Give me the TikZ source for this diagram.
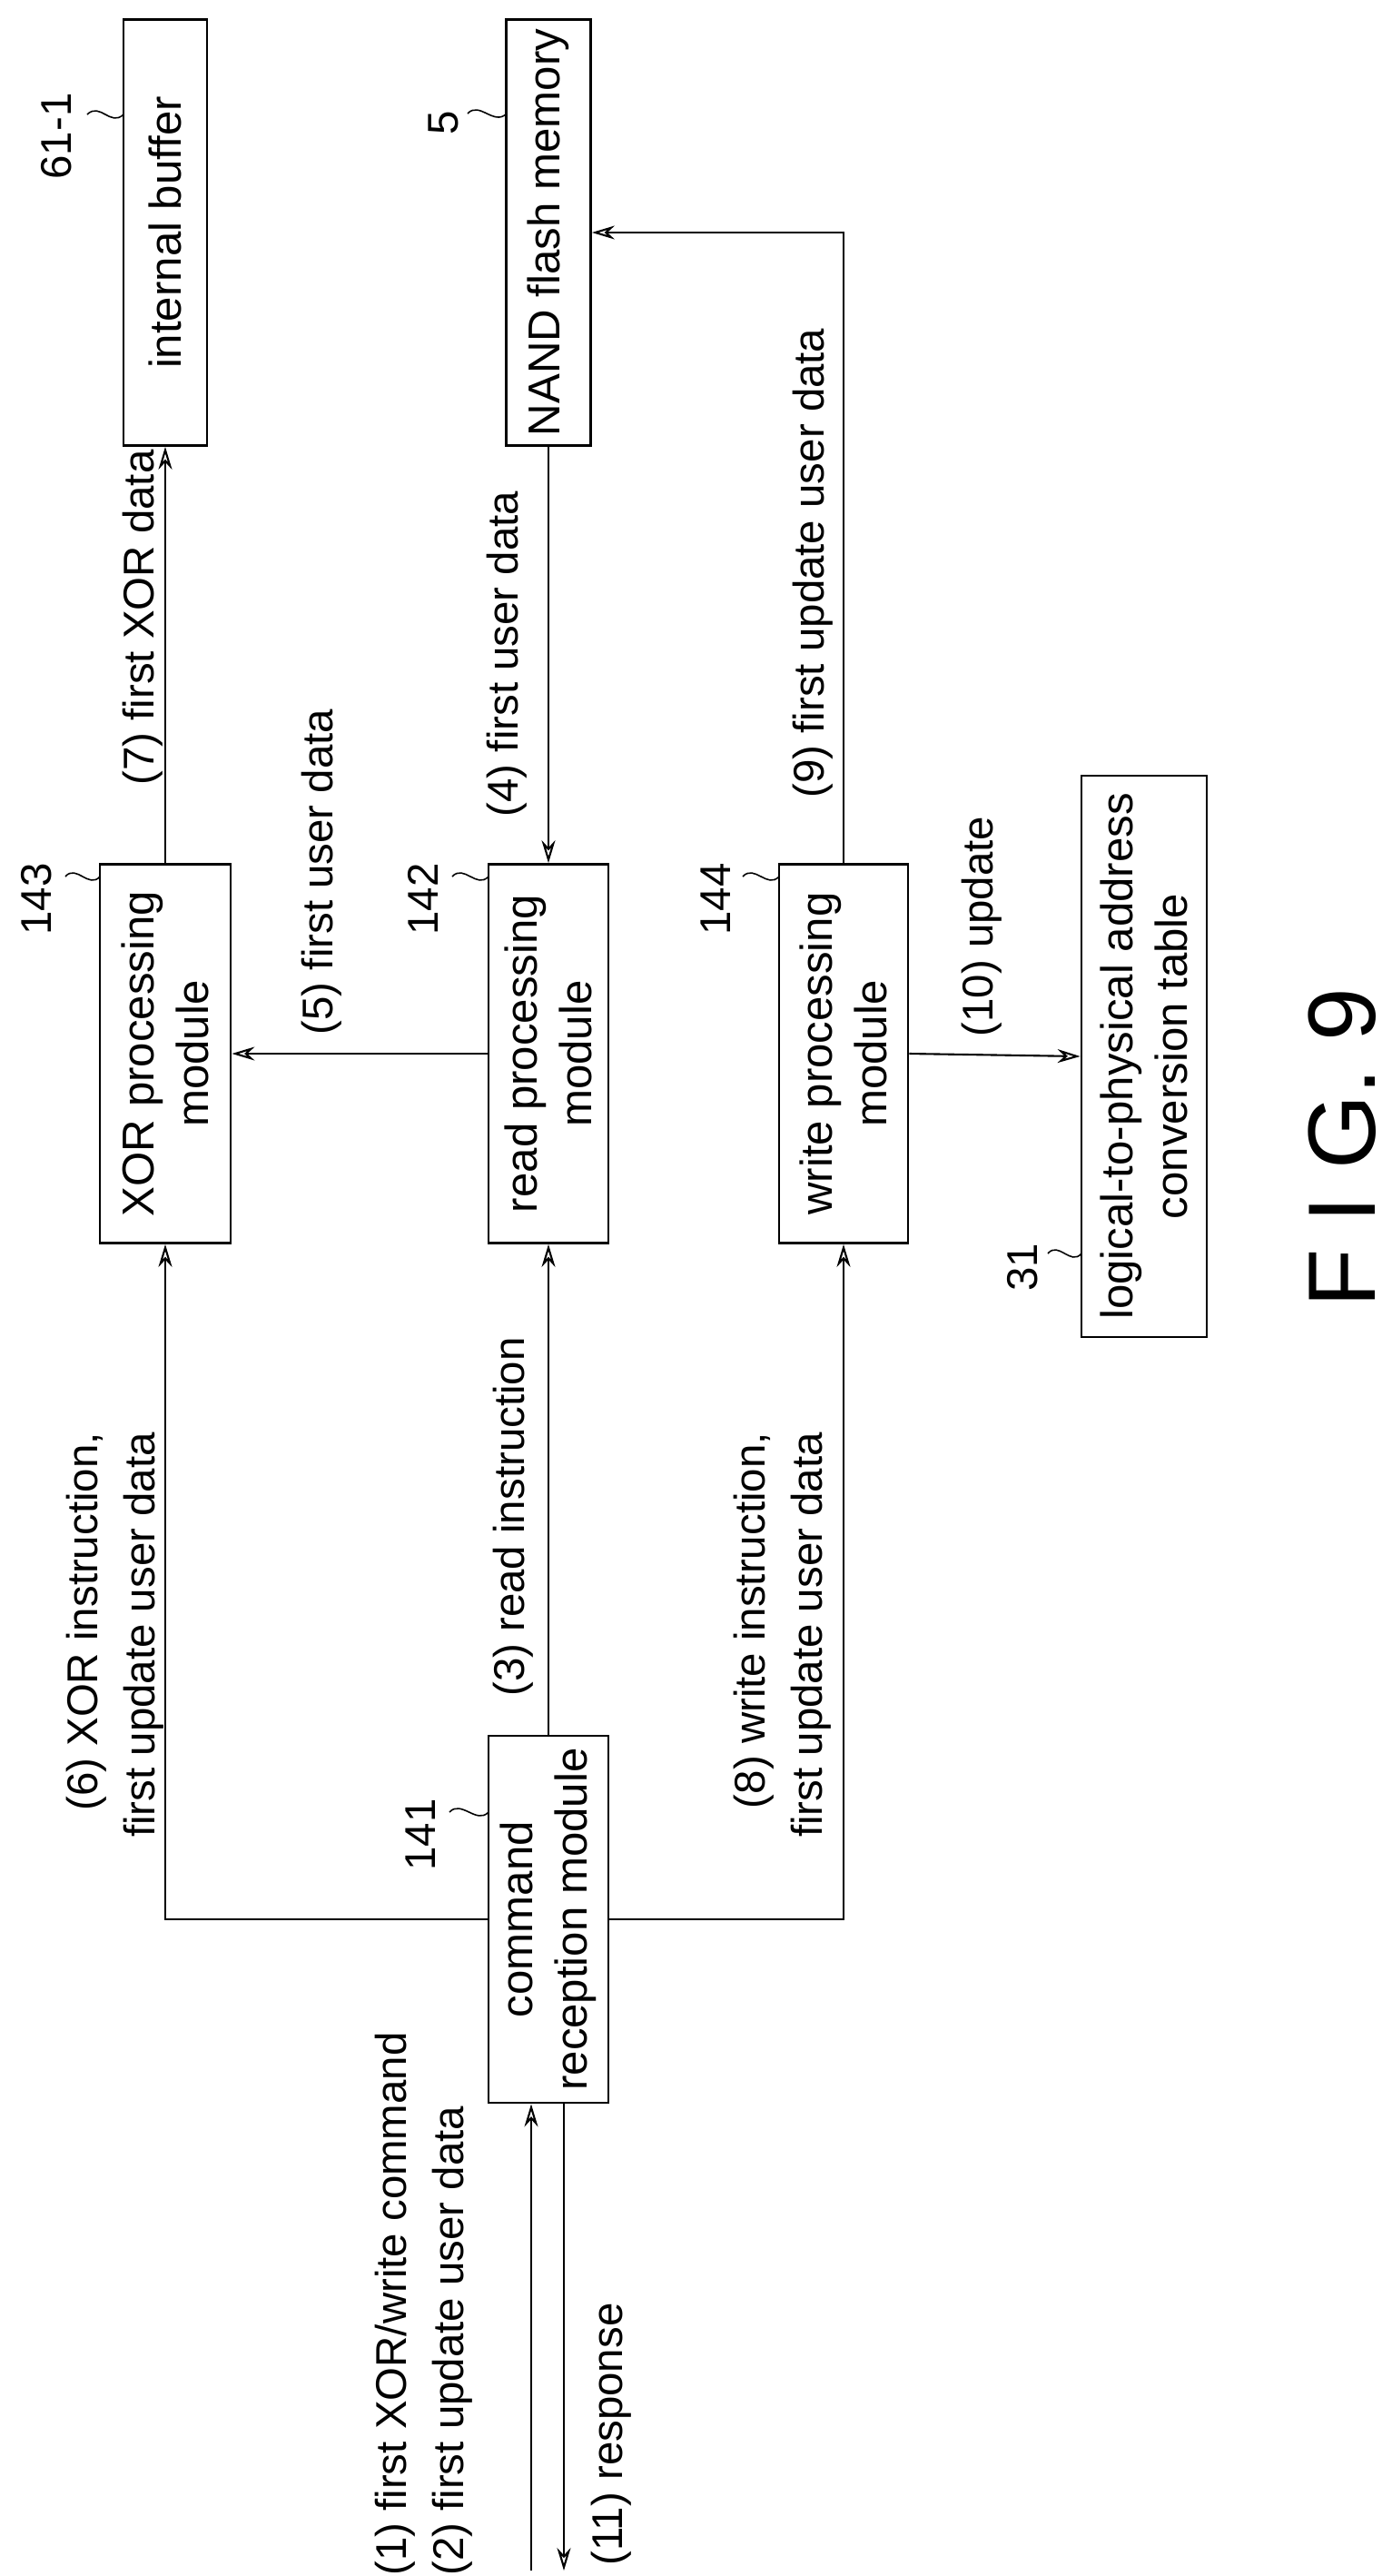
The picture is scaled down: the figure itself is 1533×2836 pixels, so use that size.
\documentclass[tikz,border=0pt]{standalone}
\usepackage{fontspec}
\setmainfont{Liberation Sans}
\usetikzlibrary{arrows.meta}
\begin{document}
\begin{tikzpicture}[x=0.02cm,y=-0.02cm,
  box/.style={draw,line width=1.6pt,rotate=90,align=center,font=\fontsize{28}{34}\selectfont,inner sep=2pt},
  lbl/.style={rotate=90,font=\fontsize{27}{36}\selectfont,inner sep=0pt},
  ref/.style={rotate=90,font=\fontsize{27}{32}\selectfont,inner sep=0pt},
  arr/.style={line width=1.2pt,-{Stealth[length=0.5cm,width=0.3cm,open]}},
  ln/.style={line width=1.2pt},
  sq/.style={line width=0.9pt}]
\useasboundingbox (0,0) rectangle (1533,2836);
% boxes (minimum width = page vertical extent, minimum height = page horizontal extent)
\node[box,minimum width=469*0.02cm,minimum height=92*0.02cm] (buf) at (182,256) {internal buffer};
\node[box,minimum width=469*0.02cm,minimum height=93*0.02cm] (nand) at (604,256) {NAND flash memory};
\node[box,minimum width=417*0.02cm,minimum height=144*0.02cm] (xor) at (182,1160) {XOR processing\\module};
\node[box,minimum width=417*0.02cm,minimum height=132*0.02cm] (read) at (604,1160) {read processing\\module};
\node[box,minimum width=417*0.02cm,minimum height=142*0.02cm] (write) at (929,1160) {write processing\\module};
\node[box,minimum width=404*0.02cm,minimum height=132*0.02cm] (cmd) at (604,2113) {command\\reception module};
\node[box,minimum width=618*0.02cm,minimum height=138*0.02cm] (tab) at (1260,1163) {logical-to-physical address\\conversion table};
% connectors
\draw[arr] (xor.east) -- (buf.west);
\draw[arr] (nand.west) -- (read.east);
\draw[arr] (write.east) |- (nand.south);
\draw[arr] (read.north) -- (xor.south);
\draw[arr] (write.south) -- (tab.north);
\draw[arr] (cmd.north) -| (xor.west);
\draw[arr] (cmd.east) -- (read.west);
\draw[arr] (cmd.south) -| (write.west);
\coordinate (in1) at (585,2830);
\coordinate (out1) at (621,2830);
\draw[arr] (in1) -- (in1 |- cmd.west);
\draw[arr] (out1 |- cmd.west) -- (out1);
% connector labels
\node[lbl] (l7) at (157,680) {(7) first XOR data};
\node[lbl] (l5) at (354,960) {(5) first user data};
\node[lbl] (l4) at (558,720) {(4) first user data};
\node[lbl] (l9) at (895,620) {(9) first update user data};
\node[lbl] (l10) at (1081,1020) {(10) update};
\node[lbl,align=right] (l6) at (127,1800) {(6) XOR instruction,\\first update user data};
\node[lbl] (l3) at (565,1670) {(3) read instruction};
\node[lbl,align=right] (l8) at (862,1800) {(8) write instruction,\\first update user data};
\node[lbl,align=left,anchor=west] (l1) at (467,2836) {(1) first XOR/write command\\(2) first update user data};
\node[lbl,anchor=west] (l11) at (673,2825) {(11) response};
% reference numerals
\node[ref] (r611) at (62,150) {61-1};
\node[ref] (r5) at (488,135) {5};
\node[ref] (r143) at (40,990) {143};
\node[ref] (r142) at (466,990) {142};
\node[ref] (r144) at (788,990) {144};
\node[ref] (r141) at (463,2020) {141};
\node[ref] (r31) at (1126,1395) {31};
\draw[sq] (96,126) .. controls (110,112) and (122,140) .. (136,126);
\draw[sq] (515,125) .. controls (528,111) and (544,139) .. (558,125);
\draw[sq] (72,965) .. controls (84,951) and (98,979) .. (110,965);
\draw[sq] (498,965) .. controls (511,951) and (525,979) .. (538,965);
\draw[sq] (818,965) .. controls (831,951) and (845,979) .. (858,965);
\draw[sq] (495,1995) .. controls (508,1981) and (525,2009) .. (538,1995);
\draw[sq] (1154,1380) .. controls (1166,1366) and (1179,1394) .. (1191,1380);
\node[rotate=90,font=\fontsize{60}{70}\selectfont] (fig) at (1478,1264) {F I G. 9};
\end{tikzpicture}
\end{document}
